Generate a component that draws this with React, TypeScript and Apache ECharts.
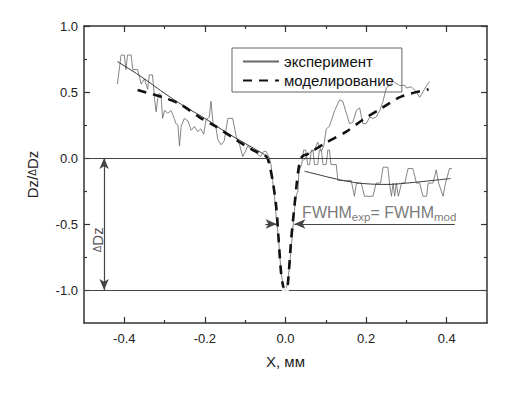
import React, { useEffect, useRef } from "react";
import * as echarts from "echarts";

// ---- data ----
const xMajor = [-0.4, -0.2, 0, 0.2, 0.4];
const xMinor = [-0.3, -0.1, 0.1, 0.3];
const yMajor = [-1, -0.5, 0, 0.5, 1];
const yMinor = [-0.75, -0.25, 0.25, 0.75];

// experiment: left noisy part, dip, right low noisy part
const expMain: [number, number][] = [
  [-0.417, 0.56], [-0.408, 0.78], [-0.4, 0.78], [-0.396, 0.67], [-0.392, 0.78],
  [-0.383, 0.78], [-0.379, 0.67], [-0.367, 0.67], [-0.358, 0.56], [-0.35, 0.6],
  [-0.342, 0.52], [-0.338, 0.63], [-0.33, 0.63], [-0.325, 0.45], [-0.321, 0.35],
  [-0.317, 0.45], [-0.313, 0.49], [-0.309, 0.48], [-0.305, 0.3], [-0.3, 0.36],
  [-0.292, 0.34], [-0.284, 0.36], [-0.276, 0.3], [-0.272, 0.26], [-0.267, 0.25],
  [-0.263, 0.09], [-0.259, 0.24], [-0.251, 0.3], [-0.242, 0.28], [-0.234, 0.21],
  [-0.226, 0.24], [-0.218, 0.2], [-0.21, 0.22], [-0.203, 0.18], [-0.197, 0.29],
  [-0.189, 0.31], [-0.185, 0.43], [-0.18, 0.27], [-0.172, 0.22], [-0.168, 0.14],
  [-0.16, 0.1], [-0.152, 0.13], [-0.143, 0.3], [-0.131, 0.3], [-0.122, 0.16],
  [-0.114, 0.1], [-0.106, 0.01], [-0.098, 0.06], [-0.094, 0.09], [-0.086, 0.07],
  [-0.078, 0.05], [-0.07, 0.03], [-0.062, 0.01], [-0.054, 0.05], [-0.048, 0.05],
  [-0.04, 0.0], [-0.036, -0.05], [-0.032, -0.17], [-0.027, -0.3], [-0.023, -0.45],
  [-0.017, -0.62], [-0.011, -0.87], [-0.005, -0.98], [0.0, -1.01], [0.005, -0.95],
  [0.01, -0.82], [0.016, -0.62], [0.022, -0.4], [0.027, -0.28], [0.031, -0.25],
  [0.033, -0.12], [0.036, -0.08], [0.04, -0.05], [0.045, 0.06], [0.05, 0.06],
  [0.055, -0.05], [0.06, -0.05], [0.064, 0.06], [0.068, 0.06], [0.072, -0.05],
  [0.08, -0.05], [0.084, 0.06], [0.089, 0.06], [0.093, -0.05], [0.101, -0.05],
  [0.105, 0.06], [0.109, 0.06], [0.113, -0.05], [0.126, -0.05], [0.13, -0.17],
  [0.163, -0.17], [0.171, -0.29], [0.176, -0.19], [0.188, -0.19], [0.196, -0.29],
  [0.217, -0.29], [0.225, -0.19], [0.236, -0.19], [0.242, -0.07], [0.254, -0.07],
  [0.258, -0.19], [0.263, -0.29], [0.267, -0.19], [0.271, -0.29], [0.275, -0.19],
  [0.28, -0.29], [0.288, -0.19], [0.296, -0.19], [0.304, -0.08], [0.316, -0.08],
  [0.325, -0.19], [0.333, -0.19], [0.341, -0.29], [0.35, -0.29], [0.354, -0.19],
  [0.366, -0.19], [0.374, -0.09], [0.38, -0.19], [0.391, -0.29], [0.397, -0.19],
  [0.407, -0.08], [0.413, -0.08],
];

// experiment: right rising noisy part
const expRise: [number, number][] = [
  [0.045, -0.02], [0.051, 0.01], [0.064, 0.05], [0.072, 0.06], [0.08, 0.12],
  [0.089, 0.05], [0.095, 0.09], [0.101, 0.22], [0.109, 0.24], [0.122, 0.36],
  [0.134, 0.44], [0.142, 0.43], [0.151, 0.34], [0.159, 0.26], [0.167, 0.27],
  [0.176, 0.36], [0.184, 0.38], [0.192, 0.26], [0.2, 0.26], [0.209, 0.31],
  [0.217, 0.3], [0.225, 0.31], [0.234, 0.36], [0.242, 0.43], [0.25, 0.53],
  [0.267, 0.58], [0.283, 0.55], [0.296, 0.55], [0.3, 0.53], [0.312, 0.54],
  [0.325, 0.5], [0.333, 0.46], [0.341, 0.5], [0.35, 0.55], [0.358, 0.58],
];

// smooth thin curves through the experiment
const fitLeft: [number, number][] = [
  [-0.417, 0.73], [-0.36, 0.62], [-0.3, 0.49], [-0.25, 0.39], [-0.2, 0.3],
  [-0.15, 0.2], [-0.1, 0.11], [-0.06, 0.04], [-0.045, 0.01],
];
const fitRight: [number, number][] = [
  [0.047, -0.1], [0.08, -0.125], [0.12, -0.155], [0.16, -0.18], [0.2, -0.195],
  [0.25, -0.2], [0.3, -0.19], [0.35, -0.175], [0.41, -0.155],
];

// model (dashed)
const model: [number, number][] = [
  [-0.367, 0.515], [-0.305, 0.46], [-0.263, 0.41], [-0.214, 0.31], [-0.172, 0.237],
  [-0.122, 0.136], [-0.081, 0.06], [-0.052, 0.02], [-0.045, 0.0], [-0.04, -0.05],
  [-0.032, -0.17], [-0.023, -0.37], [-0.017, -0.62], [-0.011, -0.87], [-0.006, -0.97],
  [-0.002, -1.0], [0.002, -1.0], [0.006, -0.95], [0.014, -0.62], [0.022, -0.37],
  [0.028, -0.19], [0.033, -0.07], [0.039, 0.0], [0.045, 0.02], [0.055, 0.03],
  [0.097, 0.11], [0.151, 0.2], [0.192, 0.29], [0.238, 0.376], [0.287, 0.465],
  [0.355, 0.52],
];

const minPoint: [number, number][] = [[0.0, -1.01]];
const refLevels = [0, -1];
const deltaArrowX = -0.45;
const fwhmLevel = -0.5;
const fwhmHalf = 0.022;
const fwhmLeftStart = -0.05;
const fwhmRightStart = 0.42;
const fwhmLabelPos: [number, number] = [0.04, -0.41];
const deltaLabelPos: [number, number] = [-0.467, -0.62];

const FONT = "'Liberation Sans', Arial, Helvetica, sans-serif";

export default function App() {
  const ref = useRef<HTMLDivElement>(null);
  useEffect(() => {
    if (!ref.current) return;
    const chart = echarts.init(ref.current, null, { renderer: "svg" });
    const axisColor = "#333";
    const fmt = (v: number) => (Math.abs(v) < 1e-9 ? 0 : v).toFixed(1);
    const tickAxisX = (pos: string, vals: number[], len: number, line: boolean) => ({
      type: "value",
      position: pos,
      min: -0.5,
      max: 0.5,
      axisLine: { show: line, onZero: false, lineStyle: { color: axisColor, width: 1.5 } },
      axisTick: { show: true, inside: true, length: len, customValues: vals, lineStyle: { color: axisColor, width: 1.2 } },
      axisLabel: { show: false },
      splitLine: { show: false },
    });
    const tickAxisY = (pos: string, vals: number[], len: number, line: boolean) => ({
      type: "value",
      position: pos,
      min: -1.25,
      max: 1,
      axisLine: { show: line, onZero: false, lineStyle: { color: axisColor, width: 1.5 } },
      axisTick: { show: true, inside: true, length: len, customValues: vals, lineStyle: { color: axisColor, width: 1.2 } },
      axisLabel: { show: false },
      splitLine: { show: false },
    });
    const xMain: any = tickAxisX("bottom", xMajor, 6, true);
    xMain.axisLabel = {
      show: true,
      customValues: xMajor,
      formatter: fmt,
      margin: 9,
      fontSize: 13,
      color: "#222",
      fontFamily: FONT,
    };
    xMain.name = "X, мм";
    xMain.nameLocation = "middle";
    xMain.nameGap = 31;
    xMain.nameTextStyle = { fontSize: 15, color: "#222", fontFamily: FONT };
    const yMain: any = tickAxisY("left", yMajor, 6, true);
    yMain.axisLabel = {
      show: true,
      customValues: yMajor,
      formatter: fmt,
      margin: 6,
      fontSize: 13,
      color: "#222",
      fontFamily: FONT,
    };
    yMain.name = "Dz/{s|Δ}Dz";
    yMain.nameLocation = "middle";
    yMain.nameGap = 44;
    yMain.nameTextStyle = {
      fontSize: 15,
      color: "#222",
      fontFamily: FONT,
      rich: { s: { fontSize: 10, color: "#222", fontFamily: FONT } },
    };

    const expStyle = { color: "#666", width: 0.8 };
    const option: any = {
      animation: false,
      grid: { left: 84, right: 18, top: 26, bottom: 74 },
      legend: {
        orient: "vertical",
        left: 232,
        top: 48,
        padding: [6, 8, 4, 10],
        itemGap: 4,
        itemWidth: 36,
        itemHeight: 14,
        borderColor: "#666",
        borderWidth: 1,
        itemStyle: { opacity: 0 },
        textStyle: { fontSize: 15, color: "#111", fontFamily: FONT },
        data: [
          { name: "эксперимент", itemStyle: { opacity: 0 } },
          { name: "моделирование", itemStyle: { opacity: 0 } },
        ],
      },
      xAxis: [
        xMain,
        tickAxisX("bottom", xMinor, 3, false),
        tickAxisX("top", xMajor, 6, true),
        tickAxisX("top", xMinor, 3, false),
      ],
      yAxis: [
        yMain,
        tickAxisY("left", yMinor, 3, false),
        tickAxisY("right", yMajor, 6, true),
        tickAxisY("right", yMinor, 3, false),
      ],
      series: [
        {
          name: "refs",
          type: "line",
          data: [],
          markLine: {
            silent: true,
            symbol: "none",
            label: { show: false },
            lineStyle: { color: "#444", width: 1.2, type: "solid" },
            data: [
              ...refLevels.map((v) => ({ yAxis: v })),
              [
                { coord: [deltaArrowX, refLevels[0]], symbol: "arrow" },
                { coord: [deltaArrowX, refLevels[1]], symbol: "arrow" },
              ],
              [
                { coord: [fwhmLeftStart, fwhmLevel], symbol: "none" },
                { coord: [-fwhmHalf, fwhmLevel], symbol: "arrow" },
              ],
              [
                { coord: [fwhmRightStart, fwhmLevel], symbol: "none" },
                { coord: [fwhmHalf, fwhmLevel], symbol: "arrow" },
              ],
            ],
            symbolSize: [7, 11],
          },
        },
        {
          name: "эксперимент",
          type: "line",
          data: expMain,
          symbol: "none",
          lineStyle: expStyle,
          itemStyle: { color: "#555" },
        },
        {
          name: "эксперимент",
          type: "line",
          data: expRise,
          symbol: "none",
          lineStyle: expStyle,
          itemStyle: { color: "#555" },
        },
        {
          name: "эксперимент",
          type: "line",
          data: fitLeft,
          symbol: "none",
          smooth: true,
          lineStyle: { color: "#333", width: 1 },
          itemStyle: { color: "#333" },
        },
        {
          name: "эксперимент",
          type: "line",
          data: fitRight,
          symbol: "none",
          smooth: true,
          lineStyle: { color: "#333", width: 1 },
          itemStyle: { color: "#333" },
        },
        {
          name: "моделирование",
          type: "line",
          data: model,
          symbol: "none",
          smooth: 0.3,
          lineStyle: { color: "#111", width: 2.6, type: [9, 7] },
          itemStyle: { color: "#111" },
        },
        {
          name: "min",
          type: "scatter",
          data: minPoint,
          symbol: "emptyRect",
          symbolSize: 5,
          z: 5,
          itemStyle: { color: "#fff", borderColor: "#555", borderWidth: 1 },
        },
        {
          name: "labels",
          type: "scatter",
          symbolSize: 1,
          itemStyle: { color: "rgba(0,0,0,0)" },
          data: [
            {
              value: fwhmLabelPos,
              label: {
                show: true,
                position: "right",
                distance: 0,
                formatter: "{a|FWHM}{b|exp}{a|= FWHM}{b|mod}",
                rich: {
                  a: { fontSize: 16, color: "#555", fontFamily: FONT, lineHeight: 22, verticalAlign: "middle" },
                  b: { fontSize: 11.5, color: "#555", fontFamily: FONT, lineHeight: 22, verticalAlign: "bottom" },
                },
              },
            },
            {
              value: deltaLabelPos,
              label: {
                show: true,
                position: "inside",
                rotate: 90,
                formatter: "{s|Δ}{a|Dz}",
                rich: {
                  s: { fontSize: 10, color: "#222", fontFamily: FONT },
                  a: { fontSize: 15, color: "#222", fontFamily: FONT },
                },
              },
            },
          ],
        },
      ],
    };
    chart.setOption(option);
    return () => chart.dispose();
  }, []);
  return (
    <div
      ref={ref}
      style={{ position: "absolute", left: 0, top: 0, width: 505, height: 397 }}
    />
  );
}
